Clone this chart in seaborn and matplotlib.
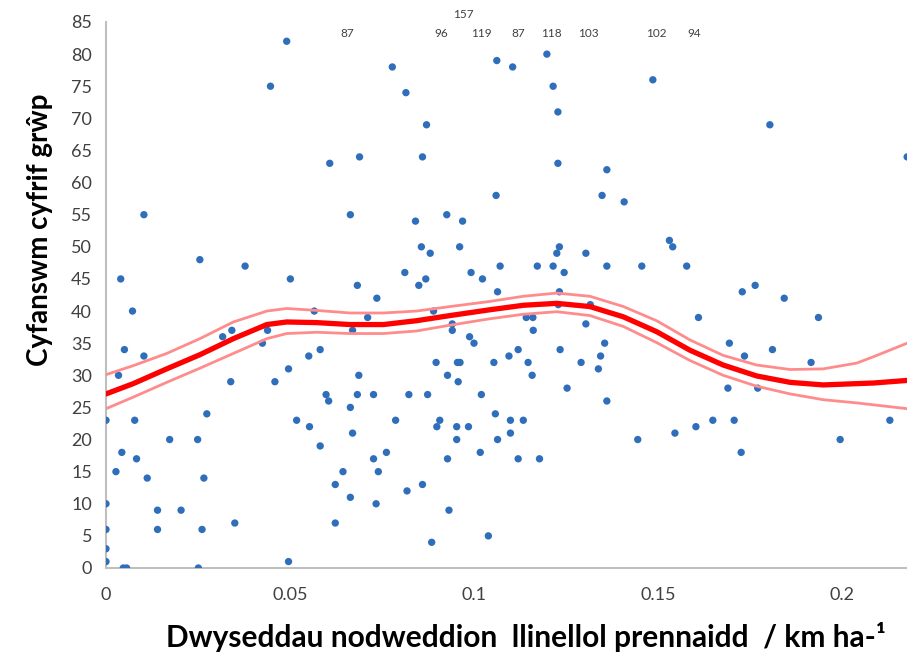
import matplotlib
matplotlib.use("Agg")
import matplotlib.pyplot as plt
import seaborn as sns
import pandas as pd

# ---- data ----
density = [
    0.0491, 0.0447, 0.0103, 0.0255, 0.0378, 0.0040, 0.0501,
    0.0566, 0.0072, 0.0050, 0.0103, 0.0034, 0.0317, 0.0342, 0.0425, 0.0439,
    0.0551, 0.0339, 0.0459, 0.0496, 0.0000, 0.0078, 0.0274, 0.0518, 0.0553,
    0.0173, 0.0249, 0.0043, 0.0083, 0.0027, 0.0112, 0.0266, 0.0000, 0.0140,
    0.0204, 0.0000, 0.0140, 0.0261, 0.0350, 0.0000, 0.0000, 0.0496, 0.0047,
    0.0056, 0.0251,
    0.0778, 0.0815, 0.0871, 0.1062, 0.1105, 0.0608, 0.0689, 0.0860, 0.1060,
    0.0664, 0.0841, 0.0926, 0.0969, 0.0857, 0.0881, 0.0961, 0.0812, 0.0992,
    0.1071, 0.0683, 0.0850, 0.0869, 0.1023, 0.1064, 0.0736,
    0.0711, 0.0890, 0.0670, 0.0941, 0.0941, 0.0988, 0.1000, 0.0582, 0.1120,
    0.0897, 0.0955, 0.0962, 0.1054, 0.1095, 0.0687, 0.0928, 0.0957, 0.0598,
    0.0605, 0.0683, 0.0727, 0.0823, 0.0874, 0.1020, 0.0664, 0.0787, 0.0907,
    0.0899, 0.0953, 0.0985, 0.1058, 0.1099, 0.1099, 0.1064, 0.0670, 0.0582,
    0.0953, 0.0762, 0.0727, 0.0928, 0.1017, 0.1120, 0.0644, 0.0740, 0.0623,
    0.0860, 0.0818, 0.0664, 0.0734, 0.0932, 0.0623, 0.1039, 0.0885,
    0.1198, 0.1215, 0.1228, 0.1486, 0.1228, 0.1361, 0.1348, 0.1408, 0.1531,
    0.1540, 0.1232, 0.1225, 0.1304, 0.1172, 0.1215, 0.1245, 0.1361, 0.1456,
    0.1578, 0.1232,
    0.1229, 0.1316, 0.1142, 0.1160, 0.1161, 0.1304, 0.1610, 0.1234, 0.1355,
    0.1344, 0.1147, 0.1291, 0.1338, 0.1158, 0.1253, 0.1361, 0.1690, 0.1694,
    0.1134, 0.1178, 0.1445, 0.1546, 0.1603, 0.1649,
    0.1804, 0.1729, 0.1764, 0.1843, 0.2177, 0.1936, 0.1735, 0.1811, 0.1916,
    0.1771, 0.1707, 0.2130, 0.1995, 0.1726,
]
group_count = [
    82, 75, 55, 48, 47, 45, 45,
    40, 40, 34, 33, 30, 36, 37, 35, 37,
    33, 29, 29, 31, 23, 23, 24, 23, 22,
    20, 20, 18, 17, 15, 14, 14, 10, 9,
    9, 6, 6, 6, 7, 3, 1, 1, 0,
    0, 0,
    78, 74, 69, 79, 78, 63, 64, 64, 58,
    55, 54, 55, 54, 50, 49, 50, 46, 46,
    47, 44, 44, 45, 45, 43, 42,
    39, 40, 37, 38, 37, 36, 35, 34, 34,
    32, 32, 32, 32, 33, 30, 30, 29, 27,
    26, 27, 27, 27, 27, 27, 25, 23, 23,
    22, 22, 22, 24, 23, 21, 20, 21, 19,
    20, 18, 17, 17, 18, 17, 15, 15, 13,
    13, 12, 11, 10, 9, 7, 5, 4,
    80, 75, 71, 76, 63, 62, 58, 57, 51,
    50, 50, 49, 49, 47, 47, 46, 47, 47,
    47, 43,
    41, 41, 39, 39, 37, 38, 39, 34, 35,
    33, 32, 32, 31, 30, 28, 26, 28, 35,
    23, 17, 20, 21, 22, 23,
    69, 43, 44, 42, 64, 39, 33, 34, 32,
    28, 23, 23, 20, 18,
]

# smoothed fit and its confidence band
fit_x = [0.0, 0.0074, 0.0165, 0.0255, 0.0346, 0.0437, 0.0491, 0.0573, 0.0663,
         0.0754, 0.0844, 0.0935, 0.1043, 0.1134, 0.1225, 0.1315, 0.1406,
         0.1496, 0.1587, 0.1677, 0.1768, 0.1859, 0.1949, 0.2040, 0.2086, 0.2177]
fit_mid = [27.1, 28.7, 31.0, 33.2, 35.7, 37.9, 38.3, 38.2, 37.9,
           37.9, 38.5, 39.3, 40.2, 40.9, 41.2, 40.7, 39.1,
           36.8, 33.9, 31.6, 29.9, 28.9, 28.5, 28.7, 28.8, 29.2]
fit_upper = [30.1, 31.5, 33.4, 35.7, 38.3, 40.0, 40.4, 40.1, 39.7,
             39.7, 40.0, 40.7, 41.5, 42.3, 42.8, 42.3, 40.7,
             38.5, 35.5, 33.1, 31.6, 30.9, 31.0, 31.9, 32.9, 35.0]
fit_lower = [24.8, 26.6, 28.9, 31.1, 33.4, 35.7, 36.5, 36.7, 36.5,
             36.5, 36.9, 37.8, 38.8, 39.5, 39.9, 39.3, 37.6,
             35.1, 32.3, 30.0, 28.3, 27.1, 26.2, 25.7, 25.4, 24.8]

# off-scale counts annotated above the plot
off_x = [0.0655, 0.0970, 0.0910, 0.1019, 0.1120, 0.1209, 0.1310, 0.1495, 0.1598]
off_y = [83.2, 86.1, 83.2, 83.2, 83.2, 83.2, 83.2, 83.2, 83.2]
off_labels = ["87", "157", "96", "119", "87", "118", "103", "102", "94"]

x_ticks = [0, 0.05, 0.1, 0.15, 0.2]
x_tick_labels = ["0", "0.05", "0.1", "0.15", "0.2"]
y_ticks = list(range(0, 90, 5))

x_label = "Dwyseddau nodweddion  llinellol prennaidd  / km ha-\u00b9"
y_label = "Cyfanswm cyfrif grŵp"

# ---- plotting ----
sns.set_style("white")
plt.rcParams["font.family"] = ["Lato", "DejaVu Sans"]

pts = pd.DataFrame({"x": density, "y": group_count})
fit = pd.DataFrame({"x": fit_x, "mid": fit_mid, "up": fit_upper, "lo": fit_lower})

fig = plt.figure(figsize=(9.07, 6.61), dpi=100)
ax = fig.add_axes([106 / 907, 1 - 568 / 661, (907 - 106) / 907, (568 - 22) / 661])

sns.scatterplot(data=pts, x="x", y="y", ax=ax, color="#2F6EBA", s=28,
                edgecolor="none", zorder=3)
sns.lineplot(data=fit, x="x", y="up", ax=ax, color="#FF8C8C", lw=2.0, zorder=4)
sns.lineplot(data=fit, x="x", y="lo", ax=ax, color="#FF8C8C", lw=2.0, zorder=4)
sns.lineplot(data=fit, x="x", y="mid", ax=ax, color="#FF0000", lw=3.8, zorder=5)

for xv, yv, lab in zip(off_x, off_y, off_labels):
    ax.text(xv, yv, lab, ha="center", va="center", fontsize=8.5,
            color="#404040", clip_on=False)

ax.set_xlim(0, (907 - 106) / 3680)
ax.set_ylim(0, 85)
ax.set_xticks(x_ticks)
ax.set_xticklabels(x_tick_labels)
ax.set_yticks(y_ticks)

for side in ["top", "right"]:
    ax.spines[side].set_visible(False)
for side in ["left", "bottom"]:
    ax.spines[side].set_color("#BFBFBF")
    ax.spines[side].set_linewidth(1.5)

ax.tick_params(axis="both", which="both", direction="out", length=6, width=1.2,
               color="#A6A6A6", labelsize=13, labelcolor="#404040")
ax.tick_params(axis="x", pad=8)
ax.tick_params(axis="y", pad=4)

ax.set_xlabel(x_label, fontsize=21.5, fontweight="bold", color="black")
ax.set_ylabel(y_label, fontsize=20, fontweight="bold", color="black")
ax.xaxis.set_label_coords((526 - 106) / 801, (568 - 637) / 546)
ax.yaxis.set_label_coords((40 - 106) / 801, (568 - 230) / 546)
ax.xaxis.label.set_va("center")
ax.yaxis.label.set_va("center")

fig.savefig("out.png", dpi=100)
